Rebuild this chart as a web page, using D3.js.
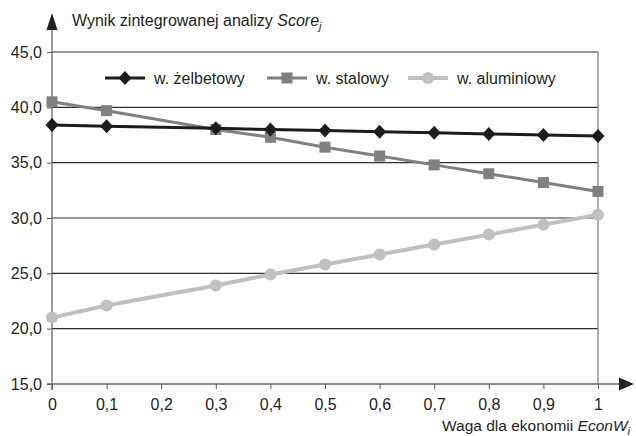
<!DOCTYPE html>
<html><head><meta charset="utf-8">
<script src="https://cdn.jsdelivr.net/npm/d3@7"></script>
<style>
body{margin:0;background:#fff;}
svg text{font-family:"Liberation Sans",Arial,Helvetica,sans-serif;fill:#231f20;}
</style></head>
<body><svg id="c" width="636" height="436"></svg>
<script>
const weights = [0, 0.1, 0.3, 0.4, 0.5, 0.6, 0.7, 0.8, 0.9, 1.0];
const zelbetowy = [38.4, 38.3, 38.1, 38.0, 37.9, 37.8, 37.7, 37.6, 37.5, 37.4];
const stalowy = [40.5, 39.7, 38.0, 37.3, 36.4, 35.6, 34.8, 34.0, 33.2, 32.4];
const aluminiowy = [21.0, 22.1, 23.9, 24.9, 25.8, 26.7, 27.6, 28.5, 29.4, 30.3];
const seriesNames = ["w. żelbetowy", "w. stalowy", "w. aluminiowy"];
const xTicks = [0, 0.1, 0.2, 0.3, 0.4, 0.5, 0.6, 0.7, 0.8, 0.9, 1];
const yTicks = [15, 20, 25, 30, 35, 40, 45];

const svg = d3.select("#c");
const x = d3.scaleLinear().domain([0, 1]).range([52, 598]);
const y = d3.scaleLinear().domain([15, 45]).range([384, 52]);
const fmtX = d => d === 0 ? "0" : d === 1 ? "1" : d3.format(".1f")(d).replace(".", ",");
const fmtY = d => d3.format(".1f")(d).replace(".", ",");

// gridlines
svg.append("g").selectAll("line").data(yTicks.filter(d => d > 15)).join("line")
  .attr("x1", x(0)).attr("x2", x(1)).attr("y1", d => y(d)).attr("y2", d => y(d))
  .attr("stroke", "#2e2e2e").attr("stroke-width", 1.2);
// right border
svg.append("line").attr("x1", x(1)).attr("x2", x(1)).attr("y1", y(45)).attr("y2", y(15))
  .attr("stroke", "#777").attr("stroke-width", 1.2);

// y axis
const yAxis = svg.append("g").attr("transform", `translate(${x(0)},0)`)
  .call(d3.axisLeft(y).tickValues(yTicks).tickFormat(fmtY).tickSize(5).tickPadding(5));
yAxis.select(".domain").remove();
yAxis.selectAll(".tick line").attr("stroke", "#555");
yAxis.selectAll(".tick text").style("font-size", "16px").attr("fill", "#231f20");
svg.append("line").attr("x1", x(0)).attr("x2", x(0)).attr("y1", 26).attr("y2", y(15) + 6)
  .attr("stroke", "#666").attr("stroke-width", 1.3);
svg.append("path").attr("d", `M${x(0)-5.5},30 L${x(0)},13 L${x(0)+5.5},30 Z`).attr("fill", "#231f20");

// x axis
const xAxis = svg.append("g").attr("transform", `translate(0,${y(15)})`)
  .call(d3.axisBottom(x).tickValues(xTicks).tickFormat(fmtX).tickSize(5).tickPadding(10));
xAxis.select(".domain").remove();
xAxis.selectAll(".tick line").attr("stroke", "#555");
xAxis.selectAll(".tick text").style("font-size", "16px").attr("fill", "#231f20");
svg.append("line").attr("x1", x(0) - 5).attr("x2", 622).attr("y1", y(15)).attr("y2", y(15))
  .attr("stroke", "#666").attr("stroke-width", 1.3);
svg.append("path").attr("d", `M619,${y(15)-6.5} L634,${y(15)} L619,${y(15)+6.5} Z`).attr("fill", "#231f20");

// titles
const yt = svg.append("text").attr("x", 72).attr("y", 26).style("font-size", "16px");
yt.append("tspan").text("Wynik zintegrowanej analizy ");
yt.append("tspan").style("font-style", "italic").text("Score");
yt.append("tspan").style("font-style", "italic").style("font-size", "11px").attr("dy", 4).text("j");

const xt = svg.append("text").attr("x", 630).attr("y", 431).attr("text-anchor", "end").style("font-size", "15.5px");
xt.append("tspan").text("Waga dla ekonomii ");
xt.append("tspan").style("font-style", "italic").text("EconW");
xt.append("tspan").style("font-style", "italic").style("font-size", "11px").attr("dy", 4).text("i");

// series
const series = [
  {name: seriesNames[0], vals: zelbetowy, color: "#1f1a1b", w: 3, shape: "diamond"},
  {name: seriesNames[1], vals: stalowy, color: "#808080", w: 3, shape: "square"},
  {name: seriesNames[2], vals: aluminiowy, color: "#c0c0c2", w: 4, shape: "circle"}
];
const line = d3.line().x((d, i) => x(weights[i])).y(d => y(d));
function marker(sel, s) {
  if (s.shape === "circle") {
    sel.append("circle").attr("r", 6).attr("fill", s.color);
  } else if (s.shape === "square") {
    sel.append("rect").attr("x", -5.5).attr("y", -5.5).attr("width", 11).attr("height", 11).attr("fill", s.color);
  } else {
    sel.append("path").attr("d", "M0,-7 L6.5,0 L0,7 L-6.5,0 Z").attr("fill", s.color);
  }
}
[2, 1, 0].forEach(k => {
  const s = series[k];
  const g = svg.append("g");
  g.append("path").datum(s.vals).attr("d", line).attr("fill", "none")
    .attr("stroke", s.color).attr("stroke-width", s.w);
  s.vals.forEach((v, i) => {
    const m = g.append("g").attr("transform", `translate(${x(weights[i])},${y(v)})`);
    marker(m, s);
  });
});

// legend
const legendX = [105, 267, 408];
series.forEach((s, k) => {
  const g = svg.append("g").attr("transform", `translate(${legendX[k]},78)`);
  g.append("line").attr("x1", 0).attr("x2", 40).attr("stroke", s.color).attr("stroke-width", s.w);
  const m = g.append("g").attr("transform", "translate(20,0)");
  marker(m, s);
  g.append("text").attr("x", 49).attr("y", 6).style("font-size", "16px").text(s.name);
});
</script></body></html>
